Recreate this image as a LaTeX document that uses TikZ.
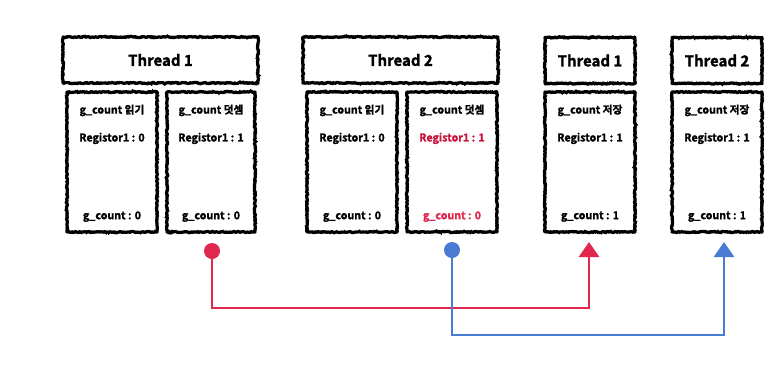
\documentclass[tikz,border=0pt]{standalone}
\usepackage{fontspec}
\setmainfont{Noto Sans CJK KR}[BoldFont={Noto Sans CJK KR Bold}]
\newfontfamily\heavyfont{Noto Sans CJK KR Bold}[FakeBold=1.6]
\usetikzlibrary{decorations.pathmorphing,arrows.meta,calc}
\definecolor{wirered}{HTML}{E0284F}
\definecolor{wireblue}{HTML}{4A7BD3}
\definecolor{regred}{HTML}{C8143C}

\begin{document}
\begin{tikzpicture}[x=1pt,y=-1pt,
  sketch/.style={draw=black, line width=3.2pt, line join=round, inner sep=0pt,
    decorate, decoration={random steps,segment length=1.4pt,amplitude=0.6pt},
    postaction={draw=black, line width=0.9pt, decorate,
      decoration={random steps,segment length=0.9pt,amplitude=2pt}}},
  header/.style={sketch, minimum height=46pt, font=\fontsize{15}{18}\heavyfont},
  stepbox/.style={sketch, minimum width=90pt, minimum height=140pt},
  lbl/.style={inner sep=0pt, font=\fontsize{10.7}{12}\heavyfont},
  dot/.style={circle, fill=#1, inner sep=0pt, minimum size=16pt},
  wire/.style={draw=#1, line width=2.9pt, line join=miter,
    -{Triangle[width=20pt,length=15pt]}}
]
\useasboundingbox (0,0) rectangle (783,365);

% thread headers
\node[header, minimum width=195pt] (h1) at (160.5,60) {Thread 1};
\node[header, minimum width=195pt] (h2) at (400.5,60) {Thread 2};
\node[header, minimum width=90pt]  (h3) at (590,60.5) {Thread 1};
\node[header, minimum width=90pt]  (h4) at (717,60.5) {Thread 2};

% step boxes
\node[stepbox] (s1) at (112,162) {};
\node[stepbox, minimum width=88pt] (s2) at (211,162) {};
\node[stepbox] (s3) at (352,162) {};
\node[stepbox] (s4) at (452,162) {};
\node[stepbox] (s5) at (590,162) {};
\node[stepbox] (s6) at (717,162) {};

% step contents
\node[lbl] (s1a) at ($(s1.north)+(0,20)$) {g\_count 읽기};
\node[lbl] (s1b) at ($(s1.north)+(0,48)$) {Registor1 : 0};
\node[lbl] (s1c) at ($(s1.south)+(0,-17)$) {g\_count : 0};

\node[lbl] (s2a) at ($(s2.north)+(0,20)$) {g\_count 덧셈};
\node[lbl] (s2b) at ($(s2.north)+(0,48)$) {Registor1 : 1};
\node[lbl] (s2c) at ($(s2.south)+(0,-17)$) {g\_count : 0};

\node[lbl] (s3a) at ($(s3.north)+(0,20)$) {g\_count 읽기};
\node[lbl] (s3b) at ($(s3.north)+(0,48)$) {Registor1 : 0};
\node[lbl] (s3c) at ($(s3.south)+(0,-17)$) {g\_count : 0};

\node[lbl] (s4a) at ($(s4.north)+(0,20)$) {g\_count 덧셈};
\node[lbl, text=regred] (s4b) at ($(s4.north)+(0,48)$) {Registor1 : 1};
\node[lbl, text=wirered] (s4c) at ($(s4.south)+(0,-17)$) {g\_count : 0};

\node[lbl] (s5a) at ($(s5.north)+(0,20)$) {g\_count 저장};
\node[lbl] (s5b) at ($(s5.north)+(0,48)$) {Registor1 : 1};
\node[lbl] (s5c) at ($(s5.south)+(0,-17)$) {g\_count : 1};

\node[lbl] (s6a) at ($(s6.north)+(0,20)$) {g\_count 저장};
\node[lbl] (s6b) at ($(s6.north)+(0,48)$) {Registor1 : 1};
\node[lbl] (s6c) at ($(s6.south)+(0,-17)$) {g\_count : 1};

% store paths
\coordinate (rt) at (589,242);
\coordinate (bt) at (724,242);
\draw[wire=wirered] (212,251) node[dot=wirered] (rc) {}
  (rc.center) -- ($(rc.center)+(0,57)$) -| (rt);
\draw[wire=wireblue] (452,250) node[dot=wireblue] (bc) {}
  (bc.center) -- ($(bc.center)+(0,85)$) -| (bt);
\end{tikzpicture}
\end{document}
